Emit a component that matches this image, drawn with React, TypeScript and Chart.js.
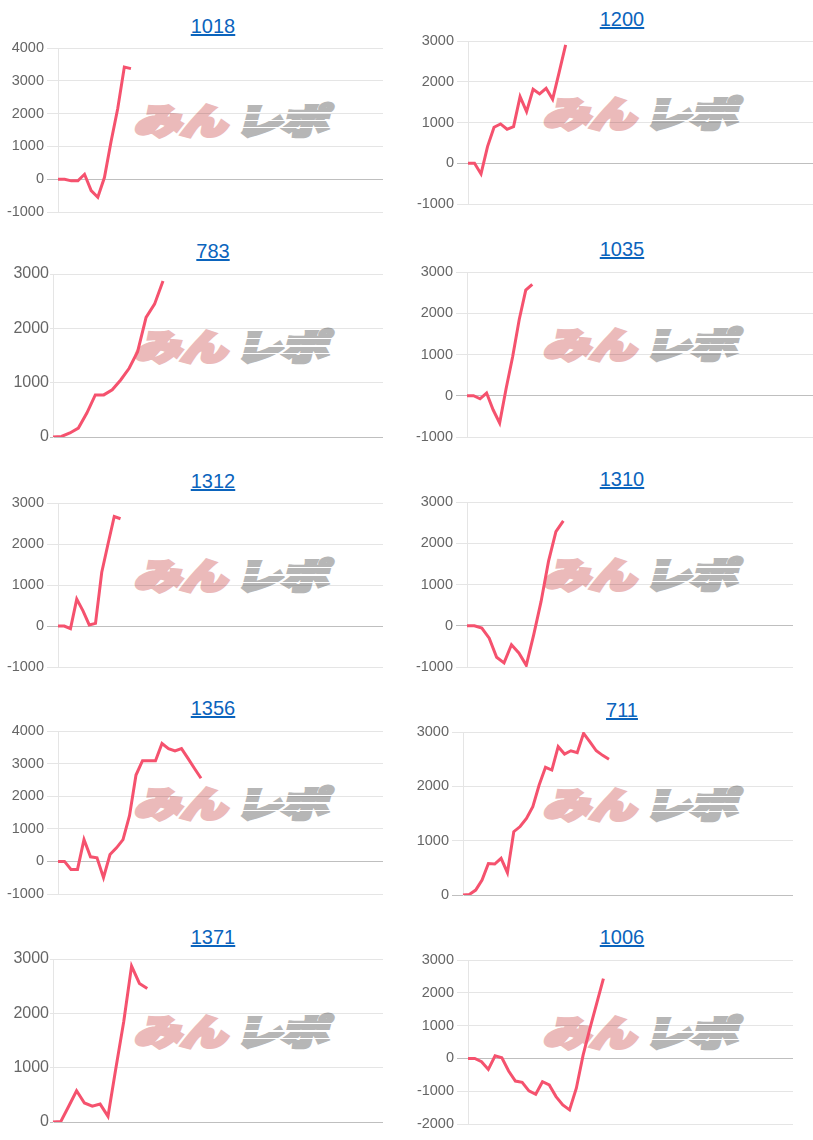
import React, { useEffect, useRef } from "react";
import { Chart, registerables } from "chart.js";

Chart.register(...registerables);

// ---------- data ----------
const titles = ["1018", "1200", "783", "1035", "1312", "1310", "1356", "711", "1371", "1006"];

// number of x categories on each chart (only the first ones carry values)
const labelCounts = [50, 54, 40, 54, 53, 45, 51, 53, 43, 49];

const s1018 = [0, 0, -50, -50, 150, -350, -550, 50, 1150, 2150, 3420, 3370];
const s1200 = [0, 0, -262, 409, 883, 965, 834, 900, 1636, 1268, 1816, 1701, 1840, 1570, 2230, 2904];
const s783 = [0, 10, 75, 165, 440, 775, 775, 870, 1050, 1265, 1570, 2200, 2445, 2870];
const s1035 = [0, 0, -75, 65, -340, -660, 180, 950, 1850, 2560, 2700];
const s1312 = [0, 0, -65, 655, 370, 25, 65, 1310, 2000, 2670, 2615];
const s1310 = [0, 0, -55, -300, -765, -900, -460, -660, -960, -220, 590, 1560, 2280, 2540];
const s1356 = [0, 0, -245, -245, 670, 140, 110, -500, 210, 415, 670, 1400, 2650, 3090, 3090, 3090, 3615, 3460, 3390, 3460, 3160, 2850, 2550];
const s711 = [0, 10, 90, 275, 580, 570, 675, 410, 1165, 1260, 1410, 1625, 2025, 2350, 2300, 2730, 2595, 2655, 2620, 2975, 2820, 2655, 2570, 2500];
const s1371 = [0, 10, 290, 575, 350, 290, 330, 105, 990, 1845, 2870, 2550, 2455];
const s1006 = [0, 0, -100, -335, 80, 20, -385, -690, -730, -990, -1095, -710, -810, -1165, -1420, -1570, -910, 100, 910, 1670, 2430];

const seriesList = [s1018, s1200, s783, s1035, s1312, s1310, s1356, s711, s1371, s1006];

const yMins = [-1000, -1000, 0, -1000, -1000, -1000, -1000, 0, 0, -2000];
const yMaxs = [4000, 3000, 3000, 3000, 3000, 3000, 4000, 3000, 3000, 3000];
const yStep = 1000;

// ---------- layout (page pixels) ----------
const layouts = [
  { ax: 58, rx: 383, ty: 48, by: 212, cx: 213, cy: 26, fs: 14.5, tl: 11, tp: 3, wx: 133 },
  { ax: 468, rx: 813, ty: 41, by: 204, cx: 622, cy: 18.5, fs: 14.5, tl: 11, tp: 3, wx: 542 },
  { ax: 53, rx: 383, ty: 274, by: 437, cx: 213, cy: 251, fs: 16, tl: 3, tp: 1, wx: 133 },
  { ax: 467, rx: 813, ty: 272, by: 437, cx: 622, cy: 249, fs: 14.5, tl: 11, tp: 3, wx: 542 },
  { ax: 58, rx: 383, ty: 503, by: 667, cx: 213, cy: 480.5, fs: 14.5, tl: 11, tp: 3, wx: 133 },
  { ax: 467, rx: 793, ty: 502, by: 667, cx: 622, cy: 479, fs: 14.5, tl: 11, tp: 3, wx: 542 },
  { ax: 58, rx: 383, ty: 731, by: 894, cx: 213, cy: 708, fs: 14.5, tl: 11, tp: 3, wx: 133 },
  { ax: 463, rx: 793, ty: 732, by: 895, cx: 622, cy: 710, fs: 14.5, tl: 11, tp: 3, wx: 542 },
  { ax: 53, rx: 383, ty: 959, by: 1122, cx: 213, cy: 937, fs: 16, tl: 3, tp: 1, wx: 133 },
  { ax: 468, rx: 793, ty: 960, by: 1124, cx: 622, cy: 937, fs: 14.5, tl: 11, tp: 3, wx: 542 },
];

const Y_W = 60;
const PAD_T = 12;
const PAD_B = 12;
const LINE_COLOR = "rgb(245, 82, 110)";
const FONT = "'Liberation Sans', Arial, Helvetica, sans-serif";
const WM_FONT = "'Noto Sans CJK JP', 'Noto Sans', sans-serif";

function makeLabels(n: number): string[] {
  const out: string[] = [];
  for (let i = 1; i <= n; i++) out.push(String(i));
  return out;
}

function Panel({ idx }: { idx: number }) {
  const ref = useRef<HTMLCanvasElement | null>(null);
  const L = layouts[idx];
  const padR = L.rx >= 813 ? 0 : 2;
  const cw = Y_W + (L.rx - L.ax) + padR;
  const ch = L.by - L.ty + PAD_T + PAD_B;
  const left = L.ax - Y_W;
  const top = L.ty - PAD_T;

  useEffect(() => {
    if (!ref.current) return;
    const chart = new Chart(ref.current, {
      type: "line",
      data: {
        labels: makeLabels(labelCounts[idx]),
        datasets: [
          {
            data: seriesList[idx],
            borderColor: LINE_COLOR,
            backgroundColor: LINE_COLOR,
            borderWidth: 3,
            pointRadius: 0,
            pointHoverRadius: 0,
            fill: false,
            tension: 0,
            borderJoinStyle: "miter",
          },
        ],
      },
      options: {
        animation: false,
        responsive: false,
        maintainAspectRatio: false,
        events: [],
        layout: { padding: { left: 0, right: padR, top: PAD_T, bottom: PAD_B } },
        plugins: {
          legend: { display: false },
          tooltip: { enabled: false },
          title: { display: false },
        },
        scales: {
          x: { display: false },
          y: {
            min: yMins[idx],
            max: yMaxs[idx],
            ticks: {
              stepSize: yStep,
              color: "#666",
              padding: L.tp,
              font: { family: FONT, size: L.fs },
              callback: (v: any) => String(v),
            },
            grid: {
              color: (ctx: any) =>
                ctx.tick && ctx.tick.value === 0 ? "rgba(0,0,0,0.25)" : "rgba(0,0,0,0.1)",
              tickLength: L.tl,
              lineWidth: 1,
            },
            border: { color: "rgba(0,0,0,0.1)" },
            afterFit: (s: any) => {
              s.width = Y_W;
            },
          },
        },
      },
    } as any);
    return () => chart.destroy();
  }, [idx]);

  const wmTop = L.ty + 53;

  const glyph: React.CSSProperties = {
    position: "absolute",
    top: 0,
    display: "inline-block",
    fontFamily: WM_FONT,
    fontWeight: 900,
    fontSize: 35,
    lineHeight: "35px",
    transform: "skewX(-14deg) scaleX(1.32)",
    transformOrigin: "left center",
    whiteSpace: "nowrap",
  };

  return (
    <>
      <a
        href="#"
        onClick={(e) => e.preventDefault()}
        style={{
          position: "absolute",
          left: L.cx - 100,
          top: L.cy - 12,
          width: 200,
          height: 24,
          lineHeight: "24px",
          textAlign: "center",
          fontFamily: FONT,
          fontSize: 20,
          color: "#0b64bd",
          textDecoration: "none",
        }}
      >
        <span style={{ textDecoration: "underline" }}>{titles[idx]}</span>
      </a>
      <div
        style={{
          position: "absolute",
          left: L.wx,
          top: wmTop,
          width: 205,
          height: 35,
          pointerEvents: "none",
          overflow: "visible",
        }}
      >
        <span
          style={{
            ...glyph,
            left: 5,
            color: "#ebbaba",
            WebkitTextStroke: "4px #ebbaba",
          }}
        >
          みん
        </span>
        <span
          style={{
            ...glyph,
            left: 106,
            color: "#b6b6b6",
            WebkitTextStroke: "4px #b6b6b6",
          }}
        >
          レポ
        </span>
        <div
          style={{
            position: "absolute",
            left: 100,
            top: 5,
            width: 105,
            height: 28,
            backgroundImage:
              "repeating-linear-gradient(to bottom, rgba(255,255,255,0) 0px, rgba(255,255,255,0) 6px, #fff 6px, #fff 7.5px)",
          }}
        />
      </div>
      <canvas
        ref={ref}
        width={cw}
        height={ch}
        style={{ position: "absolute", left, top, width: cw, height: ch }}
      />
    </>
  );
}

export default function App() {
  return (
    <div>
      {titles.map((_, i) => (
        <Panel key={i} idx={i} />
      ))}
    </div>
  );
}
